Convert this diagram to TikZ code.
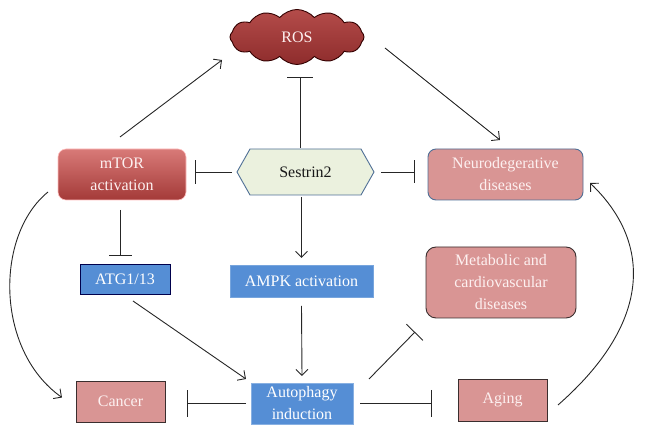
\documentclass[tikz,border=0pt]{standalone}
\usepackage{fontspec}
\setmainfont{Liberation Serif}
\usetikzlibrary{arrows.meta,shapes.symbols,calc,backgrounds}
\definecolor{pinkfill}{HTML}{D99594}
\definecolor{bluefill}{HTML}{558ED5}
\definecolor{greenfill}{HTML}{EBF1DE}
\definecolor{slateedge}{HTML}{4F6F96}
\definecolor{darkedge}{HTML}{3A2E2E}
\definecolor{pinktext}{HTML}{FDF0F0}
\definecolor{rostop}{HTML}{B44C4A}
\definecolor{rosbot}{HTML}{8E2C2C}
\definecolor{mtortop}{HTML}{D87A78}
\definecolor{mtorbot}{HTML}{A43A38}
\begin{document}
\begin{tikzpicture}[x=1pt,y=-1pt,
  every node/.style={font=\fontsize{16}{22}\selectfont, align=center, inner sep=0pt, outer sep=0pt},
  pinkbox/.style={draw=darkedge, line width=0.9pt, fill=pinkfill, text=pinktext},
  bluebox/.style={draw=#1, line width=0.9pt, fill=bluefill, text=white},
  conn/.style={line width=0.9pt, draw=black!85},
  arr/.style={conn, -{Straight Barb[length=6pt,width=12pt]}},
  inh/.style={conn, -{Bar[width=#1,line width=0.9pt]}},
  inh/.default=24pt]
\useasboundingbox (0,0) rectangle (649,435);

% nodes
\node[cloud, cloud puffs=12, cloud puff arc=100, aspect=2.4,
      minimum width=134pt, minimum height=55pt,
      draw=black!80!red, line width=0.9pt,
      top color=rostop, bottom color=rosbot, text=pinktext]
      (ros) at (297,37) {ROS};
\node[rounded corners=8pt, minimum width=128pt, minimum height=51pt,
      top color=mtortop, bottom color=mtorbot,
      draw=red!25!white, line width=0.6pt, text=pinktext]
      (mtor) at (122,174.5) {mTOR\\activation};
\node[minimum width=137pt, minimum height=46pt, text=black!90] (ses) at (305.5,172) {Sestrin2};
\begin{scope}[on background layer]
  \draw[fill=greenfill, draw=slateedge, line width=0.9pt]
    (ses.west) -- ($(ses.north west)+(13,0)$) -- ($(ses.north east)+(-13,0)$)
    -- (ses.east) -- ($(ses.south east)+(-13,0)$) -- ($(ses.south west)+(13,0)$) -- cycle;
\end{scope}
\node[pinkbox, draw=slateedge, rounded corners=8pt, minimum width=155pt, minimum height=51pt]
      (neuro) at (505.5,174.5) {Neurodegerative\\diseases};
\node[bluebox=black!70!blue, minimum width=90pt, minimum height=30pt] (atg) at (125,279) {ATG1/13};
\node[bluebox=bluefill!80!white, minimum width=143pt, minimum height=32pt] (ampk) at (301.5,281) {AMPK activation};
\node[pinkbox, rounded corners=10pt, minimum width=150pt, minimum height=71pt]
      (meta) at (501,282.5) {Metabolic and\\cardiovascular\\diseases};
\node[pinkbox, minimum width=89pt, minimum height=41pt] (cancer) at (120.5,401.5) {Cancer};
\node[bluebox=bluefill!70!white, minimum width=102pt, minimum height=41pt] (auto) at (302,403.5) {Autophagy\\induction};
\node[pinkbox, minimum width=89pt, minimum height=42pt] (aging) at (502.5,400) {Aging};

% connectors
\draw[arr] ($(mtor.north)+(-2,-12)$) -- ($(ros.center)+(-75,23)$);
\draw[arr] ($(ros.center)+(88,11)$) -- ($(neuro.north)+(-5.5,-9)$);
\draw[inh=26pt] ($(ses.north)+(-5.5,-1)$) -- ($(ros.center)+(3,40)$);
\draw[inh] ($(ses.west)+(-5,0)$) -- ($(mtor.east |- ses.west)+(9,0)$);
\draw[inh=23pt] ($(ses.east)+(7,0)$) -- ($(neuro.west |- ses.east)+(-13,0)$);
\draw[inh=23pt] ($(mtor.south)+(-2,10)$) -- ($(atg.north)+(-5,-8)$);
\draw[arr] ($(ampk.north |- ses.south)+(0,2)$) -- ($(ampk.north)+(0,-7)$);
\draw[arr] ($(ampk.south)+(0,9)$) -- ($(auto.north |- ampk.south)+(0,79)$);
\draw[arr] ($(atg.south)+(8,7)$) -- ($(auto.north west)+(-5,-4)$);
\draw[inh=23pt] ($(auto.north east)+(16,-4)$) -- ($(meta.south west)+(-11,14)$);
\draw[inh=27pt] ($(auto.west)+(-5,0)$) -- ($(cancer.east |- auto.west)+(22,0)$);
\draw[inh=27pt] ($(auto.east)+(7,0)$) -- ($(aging.west |- auto.east)+(-26,0)$);
\draw[arr] ($(mtor.south west)+(-10,-8)$) .. controls (-5,235) and (-5,350) .. ($(cancer.west)+(-14,-4)$);
\draw[arr] ($(aging.east)+(11,5)$) .. controls (655,320) and (650,240) .. ($(neuro.south east)+(7,-17)$);
\end{tikzpicture}
\end{document}
